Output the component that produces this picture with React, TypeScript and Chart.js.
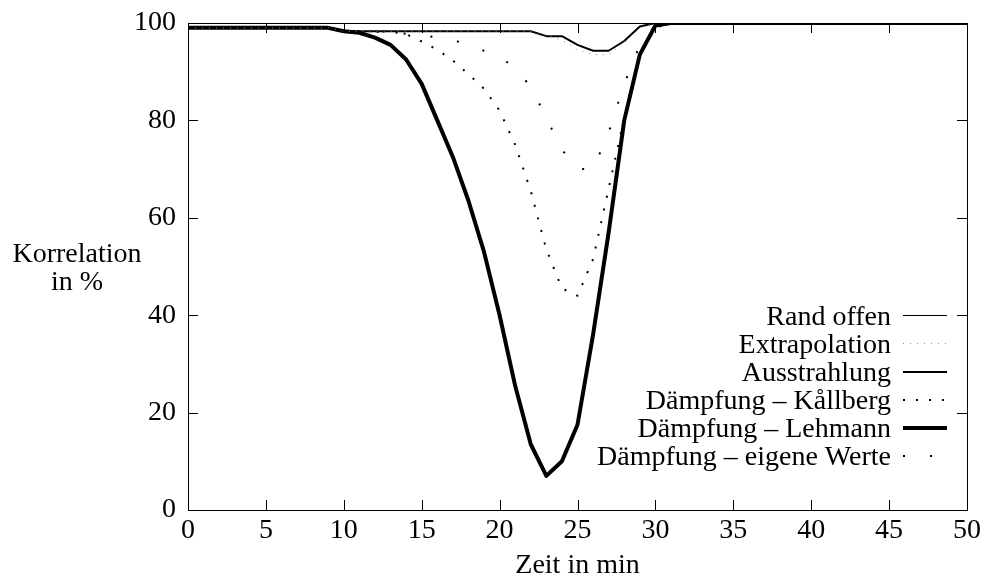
import React, { useEffect, useRef } from "react";
import { Chart, registerables } from "chart.js";

Chart.register(...registerables);

const minutes = [
  0, 1, 2, 3, 4, 5, 6, 7, 8, 9, 10, 11, 12, 13, 14, 15, 16, 17, 18, 19, 20, 21, 22, 23, 24, 25,
  26, 27, 28, 29, 30, 31, 32, 33, 34, 35, 36, 37, 38, 39, 40, 41, 42, 43, 44, 45, 46, 47, 48, 49, 50,
];

const randOffen = [
  100, 100, 100, 100, 100, 100, 100, 100, 100, 100, 100, 100, 100, 100, 100, 100, 100, 100, 100, 100,
  100, 100, 100, 100, 100, 100, 100, 100, 100, 100, 100, 100, 100, 100, 100, 100, 100, 100, 100, 100,
  100, 100, 100, 100, 100, 100, 100, 100, 100, 100, 100,
];

const extrapolation = [
  99, 99, 99, 99, 99, 99, 99, 99, 99, 99,
  98.3, 98.3, 98.3, 98.3, 98.3, 98.3, 98.3, 98.3, 98.3, 98.3, 98.3, 98.3, 98.3,
  97.5, 96.5, 94.5, 93.5, 93.5, 96, 99,
  100, 100, 100, 100, 100, 100, 100, 100, 100, 100, 100, 100, 100, 100, 100, 100, 100, 100, 100, 100, 100,
];

const ausstrahlung = [
  99, 99, 99, 99, 99, 99, 99, 99, 99, 99,
  98.3, 98.3, 98.3, 98.3, 98.3, 98.3, 98.3, 98.3, 98.3, 98.3, 98.3, 98.3, 98.3,
  97.3, 97.3, 95.5, 94.3, 94.3, 96.3, 99.3,
  100, 100, 100, 100, 100, 100, 100, 100, 100, 100, 100, 100, 100, 100, 100, 100, 100, 100, 100, 100, 100,
];

const kallberg = [
  99, 99, 99, 99, 99, 99, 99, 99, 99, 99,
  98.3, 98.3, 98.3, 98.2, 97.7, 96.2, 94.5, 92.3, 89.5, 86.5, 82, 75, 65.5, 53.5, 45.5, 44,
  51.5, 66, 80.5, 93.5, 99,
  100, 100, 100, 100, 100, 100, 100, 100, 100, 100, 100, 100, 100, 100, 100, 100, 100, 100, 100, 100,
];

const lehmann = [
  99, 99, 99, 99, 99, 99, 99, 99, 99, 99,
  98.3, 98, 97, 95.5, 92.5, 87.5, 80, 72.5, 63.5, 53, 40, 25.5, 13.5, 7, 10, 17.5,
  36, 57, 80, 93.5, 99.5,
  100, 100, 100, 100, 100, 100, 100, 100, 100, 100, 100, 100, 100, 100, 100, 100, 100, 100, 100, 100,
];

const eigeneWerte = [
  99, 99, 99, 99, 99, 99, 99, 99, 99, 99,
  98.3, 98.3, 98.2, 98, 97.8, 97.5, 97, 96.5, 95.5, 94.3, 93.3, 90.5, 87, 80.5, 74, 70,
  70, 77.5, 87.5, 95.5, 99.5,
  100, 100, 100, 100, 100, 100, 100, 100, 100, 100, 100, 100, 100, 100, 100, 100, 100, 100, 100, 100,
];

const seriesLabels = [
  "Rand offen",
  "Extrapolation",
  "Ausstrahlung",
  "Dämpfung – Kållberg",
  "Dämpfung – Lehmann",
  "Dämpfung – eigene Werte",
];

const xTitle = "Zeit in min";
const yTitleLines = ["Korrelation", "in %"];

const FONT = '"Liberation Serif", "Times New Roman", serif';

const toPoints = (vals: number[]) => minutes.map((m, i) => ({ x: m, y: vals[i] }));

const framePlugin = {
  id: "frameTicks",
  afterDatasetsDraw(chart: any) {
    const { ctx, chartArea, scales } = chart;
    const { left, right, top, bottom } = chartArea;
    ctx.save();
    ctx.strokeStyle = "#000";
    ctx.lineWidth = 1;
    ctx.setLineDash([]);
    ctx.strokeRect(Math.round(left) + 0.5, Math.round(top) + 0.5, Math.round(right - left), Math.round(bottom - top));
    const tl = 10;
    ctx.beginPath();
    scales.x.ticks.forEach((t: any) => {
      const px = Math.round(scales.x.getPixelForValue(t.value)) + 0.5;
      ctx.moveTo(px, bottom);
      ctx.lineTo(px, bottom - tl);
      ctx.moveTo(px, top);
      ctx.lineTo(px, top + tl);
    });
    scales.y.ticks.forEach((t: any) => {
      const py = Math.round(scales.y.getPixelForValue(t.value)) + 0.5;
      ctx.moveTo(left, py);
      ctx.lineTo(left + tl, py);
      ctx.moveTo(right, py);
      ctx.lineTo(right - tl, py);
    });
    ctx.stroke();
    ctx.restore();
  },
  afterDraw(chart: any) {
    const { ctx, chartArea } = chart;
    ctx.save();
    ctx.font = `28px ${FONT}`;
    ctx.fillStyle = "#000";
    // y axis title (horizontal, two lines)
    ctx.textAlign = "center";
    ctx.textBaseline = "alphabetic";
    ctx.fillText(yTitleLines[0], 77, 262);
    ctx.fillText(yTitleLines[1], 77, 290);
    // legend
    const textRight = chartArea.right - 76;
    const sx0 = chartArea.right - 64;
    const sx1 = chartArea.right - 20;
    chart.data.datasets.forEach((ds: any, i: number) => {
      const base = 325 + i * 28;
      ctx.textAlign = "right";
      ctx.fillStyle = "#000";
      ctx.fillText(ds.label, textRight, base);
      ctx.beginPath();
      ctx.setLineDash(ds.borderDash || []);
      ctx.lineWidth = ds.borderWidth;
      ctx.strokeStyle = ds.borderColor;
      ctx.lineCap = "butt";
      const ly = ds.borderWidth % 2 === 1 ? base - 9.5 : base - 9;
      ctx.moveTo(sx0, ly);
      ctx.lineTo(sx1, ly);
      ctx.stroke();
    });
    ctx.restore();
  },
};

export default function App() {
  const canvasRef = useRef<HTMLCanvasElement | null>(null);

  useEffect(() => {
    if (!canvasRef.current) return;
    const chart = new Chart(canvasRef.current, {
      type: "line",
      data: {
        datasets: [
          {
            label: seriesLabels[0],
            data: toPoints(randOffen),
            borderColor: "#000",
            borderWidth: 1,
          },
          {
            label: seriesLabels[1],
            data: toPoints(extrapolation),
            borderColor: "#888",
            borderWidth: 1,
            borderDash: [1, 6],
          },
          {
            label: seriesLabels[2],
            data: toPoints(ausstrahlung),
            borderColor: "#000",
            borderWidth: 2,
          },
          {
            label: seriesLabels[3],
            data: toPoints(kallberg),
            borderColor: "#000",
            borderWidth: 2,
            borderDash: [2, 11],
          },
          {
            label: seriesLabels[4],
            data: toPoints(lehmann),
            borderColor: "#000",
            borderWidth: 4,
          },
          {
            label: seriesLabels[5],
            data: toPoints(eigeneWerte),
            borderColor: "#000",
            borderWidth: 2,
            borderDash: [2, 25],
          },
        ] as any,
      },
      options: {
        animation: false,
        responsive: true,
        maintainAspectRatio: false,
        elements: {
          point: { radius: 0 },
          line: { tension: 0, borderJoinStyle: "round", borderCapStyle: "butt" },
        },
        layout: { padding: { top: 23, right: 19, left: 0, bottom: 0 } },
        plugins: {
          legend: { display: false },
          tooltip: { enabled: false },
          title: { display: false },
        },
        scales: {
          x: {
            type: "linear",
            min: 0,
            max: 50,
            ticks: {
              stepSize: 5,
              color: "#000",
              padding: 4,
              maxRotation: 0,
              font: { family: FONT, size: 28 },
            },
            grid: { display: false, drawTicks: false },
            border: { display: false },
            title: {
              display: true,
              text: xTitle,
              color: "#000",
              font: { family: FONT, size: 28 },
              padding: { top: 0, bottom: 1 },
            },
            afterFit: (scale: any) => {
              scale.height = 73;
              scale.paddingLeft = 0;
              scale.paddingRight = 0;
            },
          },
          y: {
            type: "linear",
            min: 0,
            max: 100,
            ticks: {
              stepSize: 20,
              color: "#000",
              padding: 12,
              font: { family: FONT, size: 28 },
            },
            grid: { display: false, drawTicks: false },
            border: { display: false },
            afterFit: (scale: any) => {
              scale.width = 188;
              scale.paddingTop = 0;
              scale.paddingBottom = 0;
            },
          },
        },
      } as any,
      plugins: [framePlugin],
    });
    return () => chart.destroy();
  }, []);

  return (
    <div style={{ position: "fixed", left: 0, top: 0, width: 986, height: 583, background: "#fff" }}>
      <canvas ref={canvasRef} />
    </div>
  );
}
